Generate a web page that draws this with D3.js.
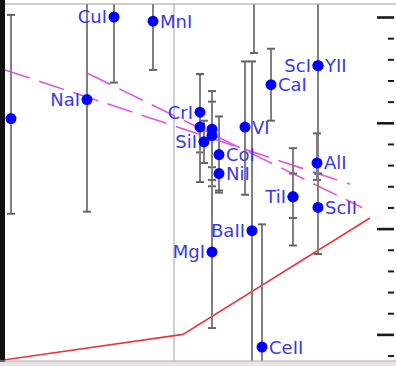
<!DOCTYPE html>
<html>
<head>
<meta charset="utf-8">
<script src="https://cdn.jsdelivr.net/npm/d3@7"></script>
<style>
  html, body { margin: 0; padding: 0; background: #fff; }
  svg { display: block; }
</style>
</head>
<body>
<script>
// Species measurements: x quantity, abundance, error range, label side
const species   = ["",    "NaI", "CuI", "MnI", "CrI", "",    "SiI", "",    "",    "CoI", "NiI", "VI",  "BaII", "",    "CeII", "CaI", "ScI", "YII", "AlI", "TiI", "",    "ScII", "MgI"];
const xValue    = [30,    410,   545,   740,   975,   975,   995,   1035,  1035,  1070,  1070,  1200,  1235,   1245,  1285,   1330,  1565,  1565,  1560,  1440,  1440,  1565,   1035];
const abundance = [0.02,  0.11,  0.50,  0.48,  0.05,  -0.02, -0.09, -0.03, -0.06, -0.15, -0.24, -0.02, -0.51,  0.80,  -1.06,  0.18,  0.27,  0.27,  -0.19, -0.35, -0.35, -0.40,  -0.61];
const errLow    = [-0.43, -0.42, 0.19,  0.25,  -0.14, -0.28, -0.19, -0.21, -0.30, -0.33, -0.32, -0.34, -1.31,  0.33,  -1.64,  0.01,  -0.24, -0.24, -0.27, -0.58, -0.45, -0.62,  -0.97];
const errHigh   = [0.51,  0.63,  0.81,  0.70,  0.23,  0.23,  0.01,  0.15,  0.10,  0.03,  -0.16, 0.29,  0.29,   1.27,  -0.48,  0.35,  0.78,  0.78,  -0.05, -0.12, -0.24, -0.18,  -0.27];
const labelSide = ["r",   "l",   "l",   "r",   "l",   "r",   "l",   "r",   "r",   "r",   "r",   "r",   "l",    "r",   "r",    "r",   "l",   "r",   "r",   "l",   "r",   "r",    "l"];

// Two dashed trend fits
const trendAX = [0, 1725],   trendAY = [0.25, -0.29];
const trendBX = [410, 1785], trendBY = [0.235, -0.40];

// Model curve (red)
const modelX = [0, 890, 1825];
const modelY = [-1.12, -1.00, -0.45];

// Vertical divider position
const dividerX = 845;

// Right-hand axis ticks
const majorTicks = [0.5, 0, -0.5, -1.0];
const minorTicks = [0.4, 0.3, 0.2, 0.1, -0.1, -0.2, -0.3, -0.4, -0.6, -0.7, -0.8, -0.9, -1.1];

const W = 396, H = 366;
const plot = { left: 5, top: 4, right: 396, bottom: 361 };

const x = d3.scaleLinear().domain([0, 1950]).range([5, 395]);
const y = d3.scaleLinear().domain([-1, 0.5]).range([334.4, 17]);

const svg = d3.select("body").append("svg")
  .attr("width", W).attr("height", H);

svg.append("defs").append("clipPath").attr("id", "plotClip")
  .append("rect")
  .attr("x", plot.left).attr("y", plot.top)
  .attr("width", plot.right - plot.left).attr("height", plot.bottom - plot.top);

// Strip below the frame
svg.append("rect")
  .attr("x", 0).attr("y", plot.bottom).attr("width", W).attr("height", H - plot.bottom)
  .attr("fill", "#e9e3e3");

const g = svg.append("g").attr("clip-path", "url(#plotClip)");

// Divider
g.append("line")
  .attr("x1", x(dividerX)).attr("x2", x(dividerX))
  .attr("y1", plot.top).attr("y2", plot.bottom)
  .attr("stroke", "#a0a0a0").attr("stroke-width", 1);

// Model curve
const line = d3.line().x(d => x(d[0])).y(d => y(d[1]));
g.append("path")
  .datum(d3.zip(modelX, modelY))
  .attr("d", line)
  .attr("fill", "none").attr("stroke", "#e8383a").attr("stroke-width", 1.6);

// Dashed trends
[[trendAX, trendAY], [trendBX, trendBY]].forEach(([tx, ty]) => {
  g.append("path")
    .datum(d3.zip(tx, ty))
    .attr("d", line)
    .attr("fill", "none").attr("stroke", "#e353e3").attr("stroke-width", 1.6)
    .attr("stroke-dasharray", "26,10");
});

const rows = species.map((s, i) => ({
  name: s, xv: xValue[i], yv: abundance[i], lo: errLow[i], hi: errHigh[i], side: labelSide[i]
}));

// Error bars
const eb = g.append("g").attr("stroke", "#808080").attr("stroke-width", 2);
rows.forEach(d => {
  const cx = x(d.xv);
  eb.append("line").attr("x1", cx).attr("x2", cx).attr("y1", y(d.lo)).attr("y2", y(d.hi));
  [d.lo, d.hi].forEach(v => {
    eb.append("line").attr("x1", cx - 4).attr("x2", cx + 4)
      .attr("y1", y(v)).attr("y2", y(v)).attr("stroke", "#666");
  });
});

// Points
g.append("g").selectAll("circle").data(rows).join("circle")
  .attr("cx", d => x(d.xv)).attr("cy", d => y(d.yv)).attr("r", 5.5)
  .attr("fill", "#0000ff");

// Labels
g.append("g").selectAll("text").data(rows.filter(d => d.name)).join("text")
  .attr("x", d => x(d.xv) + (d.side === "l" ? -7 : 7))
  .attr("y", d => y(d.yv))
  .attr("dy", "0.36em")
  .attr("text-anchor", d => d.side === "l" ? "end" : "start")
  .attr("font-family", "DejaVu Sans, sans-serif")
  .attr("font-size", 18)
  .attr("fill", "#3a3ae6")
  .text(d => d.name);

// Frame
svg.append("rect").attr("x", 0).attr("y", 0).attr("width", plot.left).attr("height", plot.bottom + 1)
  .attr("fill", "#111");
svg.append("line").attr("x1", plot.left).attr("x2", W).attr("y1", plot.top).attr("y2", plot.top)
  .attr("stroke", "#999").attr("stroke-width", 1);
svg.append("line").attr("x1", 0).attr("x2", W).attr("y1", plot.bottom).attr("y2", plot.bottom)
  .attr("stroke", "#b4aaaa").attr("stroke-width", 1);

// Right axis ticks, pointing inward
const axisX = 394;
const majorAxis = svg.append("g").attr("transform", `translate(${axisX},0)`)
  .call(d3.axisLeft(y).tickValues(majorTicks).tickSize(17).tickFormat(""));
const minorAxis = svg.append("g").attr("transform", `translate(${axisX},0)`)
  .call(d3.axisLeft(y).tickValues(minorTicks).tickSize(6).tickFormat(""));
[majorAxis, minorAxis].forEach(a => a.select(".domain").remove());
majorAxis.selectAll(".tick line").attr("stroke", "#1a1a1a").attr("stroke-width", 2.6);
minorAxis.selectAll(".tick line").attr("stroke", "#1a1a1a").attr("stroke-width", 2);
</script>
</body>
</html>
